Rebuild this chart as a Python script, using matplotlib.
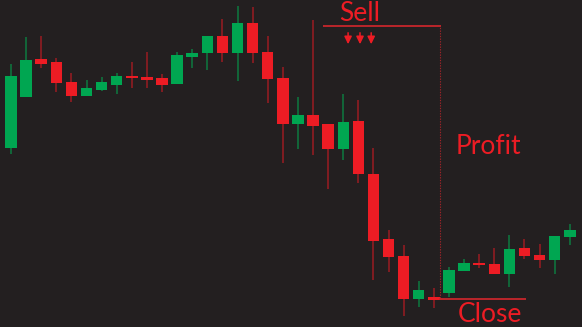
import matplotlib
matplotlib.use("Agg")
import matplotlib.pyplot as plt
from matplotlib.patches import Rectangle

# Candle data (price units), one entry per candle
opens  = [182, 233, 271, 268, 248, 234, 240, 245, 254, 253, 252, 246, 273, 277, 294, 277, 307, 278, 252, 206, 215, 206, 181, 209, 156, 91, 74, 31, 33, 37, 59, 67, 66, 56, 82, 75, 70, 93]
closes = [254, 270, 266, 247, 234, 242, 248, 254, 252, 250, 245, 275, 277, 294, 277, 307, 277, 251, 206, 215, 204, 181, 208, 156, 89, 73, 31, 40, 30, 60, 67, 65, 56, 81, 74, 70, 94, 100]
highs  = [266, 293, 294, 272, 257, 250, 253, 257, 268, 278, 256, 278, 281, 294, 311, 324, 323, 294, 263, 233, 310, 206, 236, 230, 182, 100, 85, 49, 42, 63, 71, 76, 82, 95, 91, 86, 94, 106]
lows   = [176, 234, 262, 238, 228, 234, 239, 236, 242, 242, 238, 246, 262, 260, 268, 249, 267, 227, 167, 181, 175, 141, 170, 147, 50, 58, 14, 23, 22, 33, 59, 62, 56, 43, 71, 62, 56, 85]

labels = {"sell": "Sell", "profit": "Profit", "close": "Close"}

BG = "#231f20"
RED = "#ed1c24"
GREEN = "#00a651"
RED_WICK = "#9b1c22"
GREEN_WICK = "#0d7a40"
ANN = "#c8262c"

fig = plt.figure(figsize=(5.82, 3.27), dpi=100)
fig.patch.set_facecolor(BG)
ax = fig.add_axes([0, 0, 1, 1])
ax.set_facecolor(BG)
ax.set_xlim(-0.73, 37.81)
ax.set_ylim(3, 330)
ax.axis("off")

w = 0.76
for i, (o, c, h, l) in enumerate(zip(opens, closes, highs, lows)):
    up = c >= o
    col = GREEN if up else RED
    wcol = GREEN_WICK if up else RED_WICK
    ax.vlines(i, l, h, color=wcol, linewidth=1.1, zorder=1)
    lo, hi = min(o, c), max(o, c)
    if hi - lo < 2:
        hi = lo + 2
    ax.add_patch(Rectangle((i - w / 2, lo), w, hi - lo, facecolor=col, edgecolor="none", zorder=2))

font = ["Lato", "DejaVu Sans"]
# Sell annotation
ax.hlines(304, 20.66, 28.45, color=ANN, linewidth=1.3, zorder=3)
ax.vlines(28.41, 32, 304, color=ANN, linewidth=0.8, linestyles=(0, (1.2, 1.2)), zorder=3, alpha=0.75)
ax.hlines(31.5, 28.35, 34.1, color=ANN, linewidth=1.3, zorder=3)
for xa in [22.32, 23.11, 23.85]:
    ax.annotate("", xy=(xa, 283), xytext=(xa, 300),
                arrowprops=dict(arrowstyle="-|>,head_length=0.45,head_width=0.22", color=RED, lw=1.1))
ax.text(23.1, 309, labels["sell"], color=RED, fontsize=19, family=font, ha="center", va="baseline")
ax.text(29.47, 176, labels["profit"], color=RED, fontsize=19, family=font, ha="left", va="baseline")
ax.text(29.6, 8, labels["close"], color=RED, fontsize=19, family=font, ha="left", va="baseline")

fig.savefig("out.png", dpi=100, facecolor=BG)
